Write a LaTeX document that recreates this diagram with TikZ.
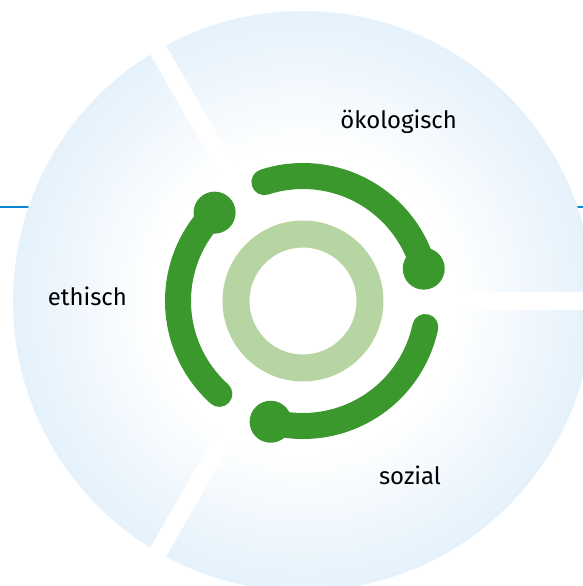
\documentclass[tikz,border=0pt]{standalone}
\usepackage{fontspec}
\setmainfont{Fira Sans}
\usepackage{tikz}
\usetikzlibrary{arrows}

\definecolor{rimblue}{RGB}{211,232,249}
\definecolor{rimpale}{RGB}{222,238,251}
\definecolor{lineblue}{RGB}{10,136,214}
\definecolor{arcgreen}{RGB}{58,152,44}
\definecolor{ringgreen}{RGB}{183,213,163}

\pgfdeclareradialshading{discshade}{\pgfpoint{0bp}{0bp}}{color(0bp)=(white); color(13bp)=(white); color(33bp)=(rimblue); color(35.4bp)=(rimpale); color(50bp)=(rimpale)}

\begin{document}
\begin{tikzpicture}[semithick,
  greenarc/.style={line width=0.65cm,line cap=round,draw=arcgreen},
  sectortext/.style={font=\fontsize{17}{20}\selectfont,anchor=base,text=black}]
  \tikzstyle{every node}=[inner sep=0pt]
  \useasboundingbox (-7.575,-7.125) rectangle (7.0,7.525);

  \draw[line width=0.06cm,draw=lineblue] (-7.575,2.35) -- (7.0,2.35);
  \shade[shading=discshade] (0,0) circle (7.25);
  \foreach \a in {0,120,240}
    \draw[line width=0.45cm,white] (0,0) -- (\a:7.6);

  % inner ring
  \draw[line width=0.675cm,draw=ringgreen] (0,0) circle (1.675);

  % three arcs, each with a dot at its start
  \foreach \a in {15,135,255} {
    \draw[greenarc] (\a:3.125) arc[start angle=\a,end angle=\a+93,radius=3.125];
    \fill[arcgreen] (\a:3.125) circle (0.525);
  }

  \node[sectortext] (oeko)  at (2.39,4.325)   {ökologisch};
  \node[sectortext] (ethik) at (-5.39,-0.1)   {ethisch};
  \node[sectortext] (sozi)  at (2.675,-4.575) {sozial};
\end{tikzpicture}
\end{document}
